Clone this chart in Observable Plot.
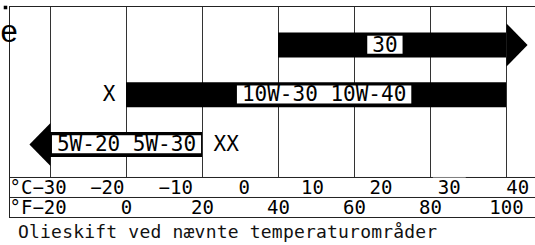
<!DOCTYPE html>
<html><head><meta charset="utf-8">
<script src="https://cdn.jsdelivr.net/npm/d3@7"></script>
<script src="https://cdn.jsdelivr.net/npm/@observablehq/plot@0.6"></script>
<style>
body{margin:0;background:#fff;}
#caption{font-family:"DejaVu Sans Mono",monospace;font-size:18px;line-height:26px;padding-left:18px;letter-spacing:0.2px;color:#111;white-space:pre;}
</style></head><body>
<div id="chart"></div>
<div id="caption"></div>
<script>
// ---- data (temperatures in °F, the unit of the grid) ----
const oils = ["30", "10W-30 10W-40", "5W-20 5W-30"];
const lowF = [40, 0, -20];
const highF = [100, 100, 20];
const openEnd = ["right", "none", "left"];
const labelF = [68, 52, 0];
const notes = ["", "X", "XX"];
const noteSide = ["none", "left", "right"];
const celsiusTicks = [-30, -20, -10, 0, 10, 20, 30, 40];
const fahrenheitTicks = [-20, 0, 20, 40, 60, 80, 100];
const captionText = "Olieskift ved nævnte temperaturområder";

const rows = oils.map((name, i) => ({
  name, lane: i, lo: lowF[i], hi: highF[i], open: openEnd[i],
  labelF: labelF[i], note: notes[i], side: noteSide[i]
}));

// layout of the lane scale (lanes 0,1,2 hold the bars)
const Y_TOP = -0.774, Y_PLOT_BOTTOM = 2.663, Y_SEP = 3.065, Y_BOTTOM = 3.467;
const Y_C = 2.864, Y_F = 3.266;

const cToF = c => c * 9 / 5 + 32;
const fmt = v => v < 0 ? "\u2212" + Math.abs(v) : String(v);

const rightHead = {draw(ctx, size) {const r = Math.sqrt(size / Math.PI); ctx.moveTo(0, -r); ctx.lineTo(r * 0.98, 0); ctx.lineTo(0, r); ctx.closePath();}};
const leftHead = {draw(ctx, size) {const r = Math.sqrt(size / Math.PI); ctx.moveTo(0, -r); ctx.lineTo(-r * 0.98, 0); ctx.lineTo(0, r); ctx.closePath();}};

const plot = Plot.plot({
  width: 535, height: 219,
  marginLeft: 9, marginRight: 0, marginTop: 6, marginBottom: 2,
  style: {fontFamily: "DejaVu Sans Mono", fontSize: "19px", background: "white", color: "#111"},
  x: {domain: [-30.79, 107.63], axis: null},
  y: {domain: [Y_TOP, Y_BOTTOM], reverse: true, axis: null},
  marks: [
    Plot.ruleX(fahrenheitTicks, {x: d => d, y1: Y_TOP, y2: Y_PLOT_BOTTOM, stroke: "#333"}),
    Plot.ruleY([Y_PLOT_BOTTOM, Y_SEP], {stroke: "#222"}),
    Plot.frame({stroke: "#222"}),
    Plot.ruleY(rows, {x1: "lo", x2: "hi", y: "lane", stroke: "black", strokeWidth: 25}),
    Plot.dot(rows.filter(d => d.open === "right"), {x: "hi", y: "lane", r: 21.5, symbol: rightHead, fill: "black"}),
    Plot.dot(rows.filter(d => d.open === "left"), {x: "lo", y: "lane", r: 21.5, symbol: leftHead, fill: "black"}),
    Plot.text(rows, {x: "labelF", y: "lane", text: "name", fontSize: 21, fill: "black"}),
    Plot.text(rows.filter(d => d.side === "left"), {x: "lo", y: "lane", text: "note", textAnchor: "end", dx: -11, fontSize: 21, fill: "black"}),
    Plot.text(rows.filter(d => d.side === "right"), {x: "hi", y: "lane", text: "note", textAnchor: "start", dx: 11, fontSize: 21, fill: "black"}),
    // °C row
    Plot.text([`°C${fmt(celsiusTicks[0])}`], {frameAnchor: "left", y: Y_C, textAnchor: "start", fill: "black"}),
    Plot.text(celsiusTicks.slice(1), {x: cToF, y: Y_C, text: fmt, dx: -4, fill: "black"}),
    // °F row
    Plot.text([`°F${fmt(fahrenheitTicks[0])}`], {frameAnchor: "left", y: Y_F, textAnchor: "start", fill: "black"}),
    Plot.text(fahrenheitTicks.slice(1), {x: d => d, y: Y_F, text: fmt, fill: "black"}),
    // clipped corner remnants
    Plot.text(["e"], {frameAnchor: "top-left", lineAnchor: "middle", dx: -9, dy: 26, textAnchor: "start", fontSize: 31, fontFamily: "Liberation Sans", fill: "black"}),
    Plot.dot([0], {frameAnchor: "top-left", dx: -4, dy: 1, r: 2, symbol: "square", fill: "black"})
  ]
});
document.getElementById("chart").append(plot);
document.getElementById("caption").textContent = captionText;

// white boxes behind the oil labels
d3.select(plot).selectAll("text").filter(function() { return oils.includes(this.textContent); }).each(function() {
  const b = this.getBBox();
  const t = d3.select(this);
  const cy = b.y + b.height / 2;
  const r = d3.select(this.parentNode).insert("rect", () => this)
    .attr("x", b.x - 5).attr("width", b.width + 10)
    .attr("y", cy - 9).attr("height", 18).attr("fill", "white");
  if (t.attr("transform")) r.attr("transform", t.attr("transform"));
});
</script>
</body></html>
